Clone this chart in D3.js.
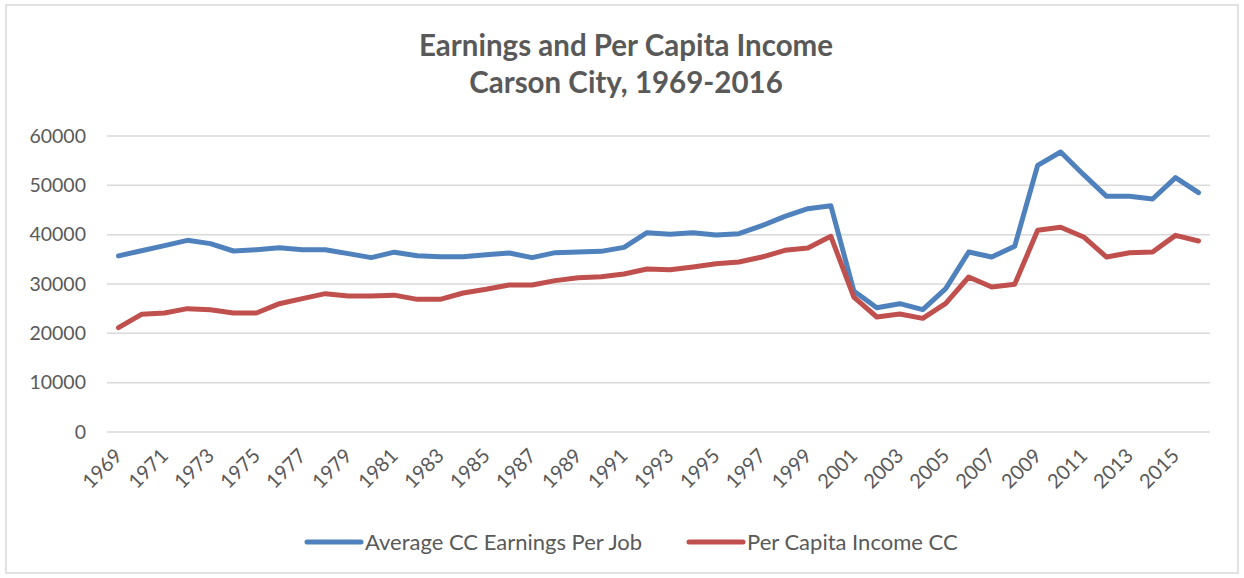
<!DOCTYPE html>
<html>

<head>
    <meta charset="utf-8">
    <script src="https://cdn.jsdelivr.net/npm/d3@7"></script>
    <style>
        body { margin: 0; background: #fff; }
        text { font-family: Lato, "Open Sans", sans-serif; fill: #595959; }
    </style>
</head>

<body>
    <div id="chart"></div>

    <script>

        // years 1969..2016
        var years = [1969, 1970, 1971, 1972, 1973, 1974, 1975, 1976, 1977, 1978, 1979, 1980,
            1981, 1982, 1983, 1984, 1985, 1986, 1987, 1988, 1989, 1990, 1991, 1992,
            1993, 1994, 1995, 1996, 1997, 1998, 1999, 2000, 2001, 2002, 2003, 2004,
            2005, 2006, 2007, 2008, 2009, 2010, 2011, 2012, 2013, 2014, 2015, 2016];

        var earningsPerJob = [35700, 36750, 37770, 38850, 38180, 36690, 36960, 37360, 36960, 36960, 36150, 35340,
            36450, 35740, 35540, 35540, 35950, 36280, 35340, 36350, 36490, 36620, 37430, 40410,
            40070, 40410, 39930, 40200, 41820, 43720, 45270, 45880, 28580, 25200, 26010, 24800,
            29050, 36490, 35470, 37640, 54050, 56760, 52160, 47770, 47770, 47230, 51550, 48510];

        var perCapitaIncome = [21150, 23850, 24120, 25000, 24800, 24120, 24120, 26010, 27030, 28040, 27570, 27570,
            27740, 26890, 26890, 28180, 28920, 29800, 29800, 30680, 31280, 31490, 32030, 33040,
            32870, 33450, 34120, 34460, 35470, 36820, 37300, 39660, 27360, 23310, 23920, 23040,
            26080, 31420, 29390, 29930, 40880, 41490, 39530, 35470, 36350, 36490, 39860, 38720];

        var yTicks = [0, 10000, 20000, 30000, 40000, 50000, 60000];

        var seriesNames = ["Average CC Earnings Per Job", "Per Capita Income CC"];
        var seriesColors = ["#4f81bd", "#c0504d"];

        var titleLines = ["Earnings and Per Capita Income", "Carson City, 1969-2016"];

        var W = 1244, H = 578;
        var plot = { left: 107, right: 1210, top: 136, bottom: 432 };

        var svg = d3.select("#chart").append("svg")
            .attr("width", W)
            .attr("height", H);

        // outer chart border
        svg.append("rect")
            .attr("x", 6).attr("y", 5)
            .attr("width", W - 12).attr("height", H - 10)
            .attr("fill", "#fff")
            .attr("stroke", "#d9d9d9")
            .attr("stroke-width", 1.5);

        var x = d3.scaleBand()
            .domain(years)
            .range([plot.left, plot.right]);

        var y = d3.scaleLinear()
            .domain([0, 60000])
            .range([plot.bottom, plot.top]);

        var cx = d => x(d) + x.bandwidth() / 2;

        // gridlines
        svg.append("g")
            .selectAll("line")
            .data(yTicks)
            .join("line")
            .attr("x1", plot.left)
            .attr("x2", plot.right)
            .attr("y1", d => y(d))
            .attr("y2", d => y(d))
            .attr("stroke", "#d9d9d9")
            .attr("stroke-width", 1.5);

        // y axis labels
        var yAxis = svg.append("g")
            .attr("transform", "translate(" + 86 + ",0)")
            .call(d3.axisLeft(y).tickValues(yTicks).tickSize(0).tickPadding(0).tickFormat(d3.format("d")));
        yAxis.select(".domain").remove();
        yAxis.selectAll("text")
            .style("font-size", "19.5px")
            .attr("font-family", null)
            .attr("fill", "#595959");

        // x axis labels, every other year, rotated
        svg.append("g")
            .selectAll("text")
            .data(years.filter((d, i) => i % 2 === 0))
            .join("text")
            .attr("transform", d => "translate(" + (cx(d) + 5) + "," + 457 + ") rotate(-45)")
            .attr("text-anchor", "end")
            .style("font-size", "20px")
            .text(d => d);

        // lines
        var line = d3.line()
            .x((d, i) => cx(years[i]))
            .y(d => y(d));

        [earningsPerJob, perCapitaIncome].forEach(function (values, k) {
            svg.append("path")
                .datum(values)
                .attr("fill", "none")
                .attr("stroke", seriesColors[k])
                .attr("stroke-width", 5)
                .attr("stroke-linejoin", "round")
                .attr("stroke-linecap", "round")
                .attr("d", line);
        });

        // title
        svg.append("g")
            .selectAll("text")
            .data(titleLines)
            .join("text")
            .attr("x", 626)
            .attr("y", (d, i) => 56 + i * 37)
            .attr("text-anchor", "middle")
            .style("font-size", "29.5px")
            .style("font-weight", "bold")
            .text(d => d);

        // legend
        var legendX = [307, 689];
        var legend = svg.append("g")
            .selectAll("g")
            .data(seriesNames)
            .join("g")
            .attr("transform", (d, i) => "translate(" + legendX[i] + "," + 542 + ")");

        legend.append("line")
            .attr("x1", 0).attr("x2", 54)
            .attr("stroke", (d, i) => seriesColors[i])
            .attr("stroke-width", 5)
            .attr("stroke-linecap", "round");

        legend.append("text")
            .attr("x", 58)
            .attr("y", 8)
            .style("font-size", "22px")
            .text(d => d);

    </script>
</body>

</html>
